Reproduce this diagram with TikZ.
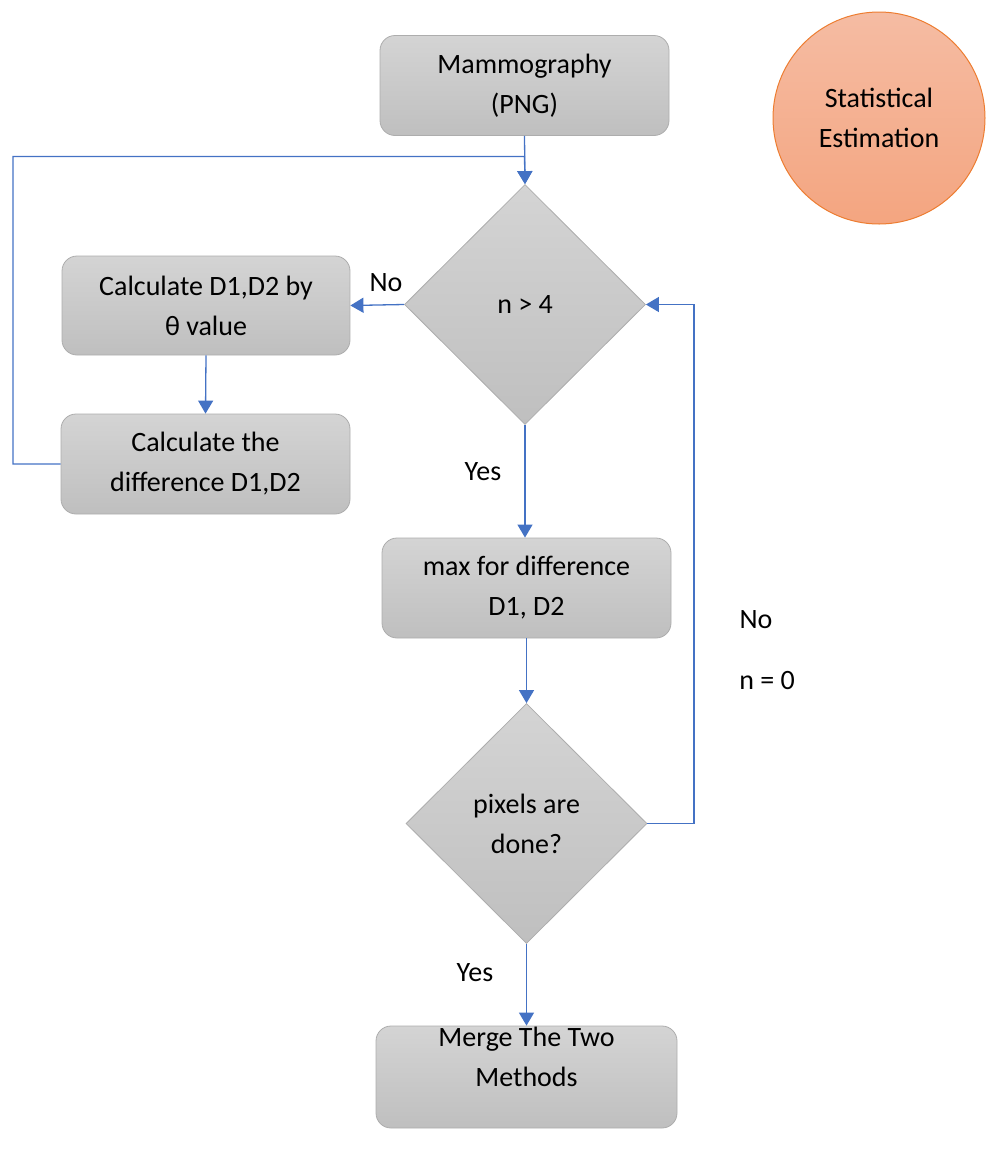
\documentclass[tikz,border=0pt]{standalone}
\usepackage{fontspec}
\setmainfont{Carlito}
\usetikzlibrary{shapes.geometric,arrows.meta}
\definecolor{boxtop}{HTML}{D4D4D4}
\definecolor{boxbot}{HTML}{BFBFBF}
\definecolor{boxline}{HTML}{ADADAD}
\definecolor{conn}{HTML}{4472C4}
\definecolor{circtop}{HTML}{F5BCA3}
\definecolor{circbot}{HTML}{F4A580}
\definecolor{circline}{HTML}{ED7D31}
\begin{document}
\begin{tikzpicture}[x=1pt,y=-1pt,
  every node/.style={font=\fontsize{28}{40}\selectfont, text=black},
  procbox/.style={draw=boxline, line width=0.8pt, rounded corners=15pt, top color=boxtop, bottom color=boxbot, inner sep=0pt, align=center, minimum width=289pt, minimum height=100pt},
  decis/.style={diamond, draw=boxline, line width=0.8pt, top color=boxtop, bottom color=boxbot, inner sep=0pt, align=center, minimum width=241pt, minimum height=240pt},
  arr/.style={draw=conn, line width=1.3pt, -{Triangle[width=15pt,length=13pt]}},
  lbl/.style={inner sep=0pt}
]
\useasboundingbox (0,0) rectangle (987,1160);
\node[procbox] (mammo) at (524.5,85.5) {Mammography\\(PNG)};
\node[circle, draw=circline, line width=1pt, top color=circtop, bottom color=circbot, minimum size=212pt, inner sep=0pt, align=center] (stat) at (879,118) {Statistical\\Estimation};
\node[decis] (d1) at (525,304.5) {n > 4};
\node[procbox, minimum width=288pt, minimum height=99pt] (calc) at (206,305.5) {Calculate D1,D2 by\\θ value};
\node[procbox, minimum width=289pt] (diff) at (205.5,464) {Calculate the\\difference D1,D2};
\node[procbox] (max) at (526.5,588) {max for difference\\D1, D2};
\node[decis] (d2) at (526.5,823.5) {pixels are\\done?};
\node[procbox, minimum width=301pt, minimum height=102pt] (merge) at (526.5,1077) {\raisebox{12pt}[10pt][10pt]{\begin{tabular}{@{}c@{}}Merge The Two\\Methods\end{tabular}}};
\coordinate (jn) at (524.5,156.5);
\coordinate (lc) at (13,464);
\coordinate (rc) at (694,823.5);
% connectors
\draw[arr] (mammo.south) -- (d1.north);
\draw[arr] (diff.west) -- (lc) |- (jn) -- (d1.north);
\draw[arr] (d1.west) -- (calc.east);
\draw[arr] (calc.south) -- (diff.north);
\draw[arr] (d1.south) -- (max.north -| d1.south);
\draw[arr] (max.south) -- (d2.north);
\draw[arr] (d2.east) -- (rc) |- (d1.east);
\draw[arr] (d2.south) -- (merge.north);
% labels
\node[lbl] (lno1) at (386,283) {No};
\node[lbl] (lyes1) at (483,472) {Yes};
\node[lbl] (lno2) at (756,620) {No};
\node[lbl] (ln0) at (767,681) {n = 0};
\node[lbl] (lyes2) at (475,973) {Yes};
\end{tikzpicture}
\end{document}
